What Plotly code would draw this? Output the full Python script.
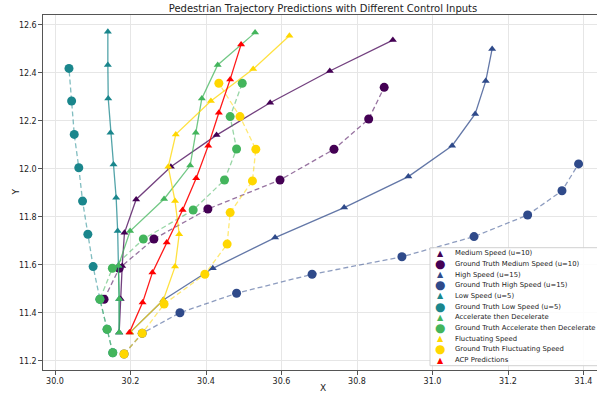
import plotly.graph_objects as go

# ---------------- data ----------------
medium_pred_x = [30.170, 30.174, 30.178, 30.184, 30.215, 30.307, 30.428, 30.570, 30.728, 30.895]
medium_pred_y = [11.318, 11.457, 11.595, 11.733, 11.872, 12.008, 12.140, 12.275, 12.407, 12.536]
medium_gt_x = [30.130, 30.170, 30.262, 30.405, 30.596, 30.739, 30.831, 30.872]
medium_gt_y = [11.456, 11.585, 11.707, 11.832, 11.953, 12.081, 12.207, 12.339]

high_pred_x = [30.199, 30.287, 30.418, 30.583, 30.766, 30.936, 31.052, 31.113, 31.141, 31.158]
high_pred_y = [11.318, 11.453, 11.585, 11.713, 11.838, 11.967, 12.096, 12.228, 12.365, 12.499]
high_gt_x = [30.183, 30.231, 30.331, 30.481, 30.681, 30.919, 31.110, 31.252, 31.343, 31.387]
high_gt_y = [11.228, 11.314, 11.400, 11.481, 11.560, 11.633, 11.717, 11.807, 11.908, 12.020]

low_pred_x = [30.170, 30.170, 30.168, 30.166, 30.162, 30.155, 30.147, 30.141, 30.140, 30.140]
low_pred_y = [11.318, 11.457, 11.596, 11.740, 11.879, 12.018, 12.150, 12.293, 12.432, 12.571]
low_gt_x = [30.153, 30.138, 30.119, 30.101, 30.087, 30.073, 30.063, 30.051, 30.044, 30.037]
low_gt_y = [11.233, 11.331, 11.456, 11.592, 11.727, 11.865, 12.004, 12.143, 12.282, 12.418]

acc_pred_x = [30.170, 30.170, 30.168, 30.199, 30.289, 30.358, 30.373, 30.389, 30.431, 30.530]
acc_pred_y = [11.318, 11.457, 11.596, 11.740, 11.874, 12.013, 12.150, 12.293, 12.432, 12.567]
acc_gt_x = [30.153, 30.138, 30.119, 30.152, 30.234, 30.366, 30.449, 30.481, 30.464, 30.496]
acc_gt_y = [11.233, 11.331, 11.456, 11.585, 11.707, 11.828, 11.953, 12.082, 12.217, 12.356]

fluct_pred_x = [30.199, 30.287, 30.318, 30.329, 30.318, 30.300, 30.320, 30.413, 30.525, 30.621]
fluct_pred_y = [11.318, 11.453, 11.592, 11.727, 11.865, 12.008, 12.143, 12.282, 12.415, 12.554]
fluct_gt_x = [30.183, 30.231, 30.289, 30.397, 30.456, 30.464, 30.523, 30.532, 30.490, 30.434]
fluct_gt_y = [11.228, 11.314, 11.436, 11.560, 11.686, 11.817, 11.949, 12.081, 12.217, 12.356]

acp_x = [30.197, 30.232, 30.258, 30.296, 30.338, 30.374, 30.406, 30.434, 30.464, 30.493]
acp_y = [11.317, 11.442, 11.567, 11.693, 11.828, 11.960, 12.096, 12.233, 12.372, 12.518]

labels = ["Medium Speed (u=10)", "Ground Truth Medium Speed (u=10)",
          "High Speed (u=15)", "Ground Truth High Speed (u=15)",
          "Low Speed (u=5)", "Ground Truth Low Speed (u=5)",
          "Accelerate then Decelerate", "Ground Truth Accelerate then Decelerate",
          "Fluctuating Speed", "Ground Truth Fluctuating Speed",
          "ACP Predictions"]

colors = {"medium": (68, 1, 84), "high": (47, 74, 138), "low": (26, 134, 140),
          "acc": (67, 181, 92), "fluct": (255, 215, 0), "acp": (255, 0, 0)}

def hexc(c):
    return "#%02x%02x%02x" % c

def rgba(c, a):
    return "rgba(%d,%d,%d,%.2f)" % (c[0], c[1], c[2], a)

series = [
    (medium_pred_x, medium_pred_y, "medium", True),
    (medium_gt_x, medium_gt_y, "medium", False),
    (high_pred_x, high_pred_y, "high", True),
    (high_gt_x, high_gt_y, "high", False),
    (low_pred_x, low_pred_y, "low", True),
    (low_gt_x, low_gt_y, "low", False),
    (acc_pred_x, acc_pred_y, "acc", True),
    (acc_gt_x, acc_gt_y, "acc", False),
    (fluct_pred_x, fluct_pred_y, "fluct", True),
    (fluct_gt_x, fluct_gt_y, "fluct", False),
    (acp_x, acp_y, "acp", True),
]

fig = go.Figure()
for (xs, ys, key, pred), lab in zip(series, labels):
    c = colors[key]
    if pred:
        line = dict(color=rgba(c, 0.75 if key != "acp" else 0.9), width=1.3)
        marker = dict(symbol="triangle-up", size=7, color=hexc(c), line=dict(width=0))
    else:
        line = dict(color=rgba(c, 0.55), width=1.3, dash="5px,3px")
        marker = dict(symbol="circle", size=9, color=hexc(c), line=dict(width=0))
    fig.add_trace(go.Scatter(x=xs, y=ys, mode="lines+markers", name=lab,
                             line=line, marker=marker, showlegend=False))

# ---------------- layout geometry ----------------
L, R, T, B = 43, 597, 15, 370
W, H = 597, 397
def px(x):
    return (x - L) / (R - L)
def py(y):
    return (B - y) / (B - T)

font_family = "DejaVu Sans"

annotations = []
shapes = []
# manual legend
shapes.append(dict(type="rect", xref="paper", yref="paper",
                   x0=px(430), x1=px(640), y0=py(365.7), y1=py(247.7),
                   fillcolor="rgba(255,255,255,0.85)",
                   line=dict(color="#d0d0d0", width=1), layer="above"))
for i, ((xs, ys, key, pred), lab) in enumerate(zip(series, labels)):
    yc = 253.3 + i * 10.67
    c = hexc(colors[key])
    annotations.append(dict(xref="paper", yref="paper", x=px(440), y=py(yc),
                            text="▲" if pred else "●", showarrow=False,
                            xanchor="center", yanchor="middle",
                            font=dict(family=font_family, size=8 if pred else 12, color=c)))
    annotations.append(dict(xref="paper", yref="paper", x=px(452.5), y=py(yc),
                            text=lab, showarrow=False, xanchor="left", yanchor="middle",
                            font=dict(family=font_family, size=6.85, color="#222")))

# axis titles
annotations.append(dict(xref="paper", yref="paper", x=px(323), y=py(388), text="X",
                        showarrow=False, xanchor="center", yanchor="middle",
                        font=dict(family=font_family, size=9, color="#222")))
annotations.append(dict(xref="paper", yref="paper", x=px(15), y=py(192.5), text="Y",
                        showarrow=False, xanchor="center", yanchor="middle", textangle=-90,
                        font=dict(family=font_family, size=9, color="#222")))

fig.update_layout(
    width=W, height=H,
    margin=dict(l=L, r=W - R, t=T, b=H - B, autoexpand=False),
    paper_bgcolor="white", plot_bgcolor="white",
    title=dict(text="Pedestrian Trajectory Predictions with Different Control Inputs",
               x=px(323), xref="paper", xanchor="center",
               y=1 - 8 / H, yref="container", yanchor="middle",
               font=dict(family=font_family, size=10, color="#222")),
    annotations=annotations, shapes=shapes,
    font=dict(family=font_family),
    showlegend=False,
)
axis_common = dict(showgrid=True, gridcolor="#e6e6e6", gridwidth=1, zeroline=False,
                   showline=True, linecolor="#555", linewidth=1.4,
                   ticks="outside", ticklen=3.5, tickwidth=1, tickcolor="#555",
                   tickfont=dict(family=font_family, size=8, color="#222"),
                   tickformat=".1f", dtick=0.2)
fig.update_xaxes(range=[30 - 12 / 377.5, 30 + (R - 55) / 377.5], tick0=30.0,
                 mirror=True, **axis_common)
fig.update_yaxes(range=[12 - (B - 168.7) / 240, 12 + (168.7 - T) / 240], tick0=11.2,
                 **axis_common)

fig.write_html("out.html")
